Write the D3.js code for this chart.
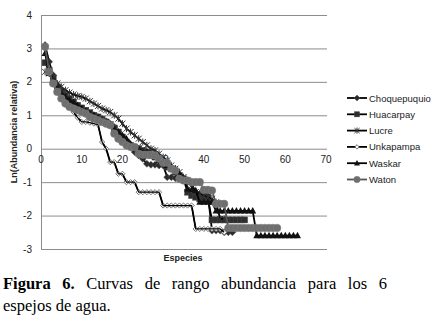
<!DOCTYPE html>
<html><head><meta charset="utf-8">
<script src="https://cdn.jsdelivr.net/npm/d3@7"></script>
<style>body{margin:0;background:#fff}svg{display:block}</style>
</head><body>
<svg id="c" width="437" height="323"></svg>
<script>
const seriesNames = ["Choquepuquio","Huacarpay","Lucre","Unkapampa","Waskar","Waton"];
const choquepuquio = [3.1,2.6,2.2,1.9,1.7,1.55,1.45,1.35,1.28,1.2,1.12,1.05,1.0,0.95,0.9,0.82,0.75,0.65,0.5,0.35,0.2,0.05,-0.1,-0.2,-0.3,-0.45,-0.48,-0.48,-0.5,-0.5,-0.85,-0.85,-0.88,-0.9,-0.9,-1.0,-1.05,-1.3,-1.35,-1.35,-1.4,-2.45,-2.45,-2.45,-2.5,-2.5,-2.5];
const huacarpay = [2.57,2.35,2.1,1.85,1.7,1.6,1.5,1.4,1.3,1.22,1.15,1.08,1.0,0.95,0.88,0.8,0.72,0.62,0.5,0.35,0.2,0.1,0.05,0.0,-0.05,-0.1,-0.2,-0.25,-0.3,-0.4,-0.55,-0.6,-0.7,-0.8,-0.9,-1.3,-1.4,-1.45,-1.5,-1.5,-1.5,-2.13,-2.13,-2.13,-2.13,-2.13,-2.13,-2.13,-2.13,-2.13];
const lucre = [2.3,2.25,2.1,1.95,1.85,1.75,1.68,1.62,1.58,1.55,1.5,1.42,1.35,1.28,1.2,1.15,1.1,1.0,0.9,0.75,0.6,0.5,0.4,0.3,0.2,0.1,0.0,-0.05,-0.15,-0.25,-0.35,-0.5,-0.6,-0.7,-0.85,-0.95,-1.1,-1.3,-1.35,-1.4,-1.45,-1.5,-1.6,-2.1,-2.1];
const unkapampa = [3.0,2.3,2.0,1.75,1.55,1.4,1.25,1.1,0.93,0.8,0.8,0.78,0.75,0.72,0.2,0.0,-0.4,-0.4,-0.75,-0.75,-1.0,-1.0,-1.0,-1.3,-1.3,-1.3,-1.3,-1.3,-1.3,-1.7,-1.7,-1.7,-1.7,-1.7,-1.7,-1.7,-1.7,-2.4,-2.4,-2.4,-2.4,-2.4,-2.4,-2.4,-2.5];
const waskar = [2.85,2.25,2.0,1.8,1.65,1.55,1.45,1.38,1.3,1.2,1.12,1.05,1.0,0.92,0.85,0.78,0.7,0.58,0.5,0.4,0.3,0.15,0.05,0.0,-0.1,-0.1,-0.12,-0.15,-0.35,-0.45,-0.5,-0.55,-0.6,-0.75,-0.9,-1.2,-1.23,-1.25,-1.6,-1.6,-1.6,-1.6,-1.86,-1.86,-1.86,-1.86,-1.86,-1.86,-1.86,-1.86,-1.86,-1.86,-2.6,-2.6,-2.6,-2.6,-2.6,-2.6,-2.6,-2.6,-2.6,-2.6,-2.6];
const waton = [3.05,2.3,1.95,1.7,1.5,1.35,1.25,1.2,1.15,1.1,1.05,0.95,0.9,0.85,0.8,0.75,0.7,0.45,0.3,0.2,0.1,0.05,0.05,-0.15,-0.18,-0.18,-0.18,-0.2,-0.3,-0.42,-0.42,-0.6,-0.65,-0.9,-0.95,-0.95,-1.0,-1.0,-1.0,-1.23,-1.23,-1.25,-1.65,-1.65,-1.65,-2.37,-2.37,-2.37,-2.37,-2.37,-2.37,-2.37,-2.37,-2.37,-2.37,-2.37,-2.37,-2.37];
const xTicks = [0,10,20,30,40,50,60,70];
const yTicks = [-3,-2,-1,0,1,2,3,4];
const xTitle = "Especies";
const yTitle = "Ln(Abundancia relativa)";
const captionBold = "Figura 6.";
const captionLine1 = "Curvas de rango abundancia para los 6";
const captionLine2 = "espejos de agua.";

const allSeries = [choquepuquio,huacarpay,lucre,unkapampa,waskar,waton];
const svg = d3.select("#c");
const x = d3.scaleLinear().domain([0,70]).range([41,326]);
const y = d3.scaleLinear().domain([-3,4]).range([249,15]);

// grid
svg.append("g").selectAll("line").data(yTicks).join("line")
  .attr("x1",41).attr("x2",327).attr("y1",d=>y(d)+0.5).attr("y2",d=>y(d)+0.5)
  .attr("stroke","#8c8c8c").attr("stroke-width",1);
svg.append("line").attr("x1",41.5).attr("x2",41.5).attr("y1",y(4)).attr("y2",y(-3)+1)
  .attr("stroke","#8c8c8c");

// tick labels
svg.append("g").selectAll("text").data(yTicks).join("text")
  .attr("x",32).attr("y",d=>y(d)+3.5).attr("text-anchor","end")
  .attr("font-family","Liberation Sans, Arial, sans-serif").attr("font-size",10).attr("fill","#222")
  .text(d=>d);
svg.append("g").selectAll("text").data(xTicks).join("text")
  .attr("x",d=>x(d)).attr("y",y(0)+14).attr("text-anchor","middle")
  .attr("font-family","Liberation Sans, Arial, sans-serif").attr("font-size",10).attr("fill","#222")
  .text(d=>d);

// axis titles
svg.append("text").attr("transform",`translate(17,${(y(4)+y(-3))/2}) rotate(-90)`)
  .attr("text-anchor","middle").attr("font-family","Liberation Sans, Arial, sans-serif")
  .attr("font-size",9).attr("font-weight","bold").attr("fill","#222").text(yTitle);
svg.append("text").attr("x",183).attr("y",261).attr("text-anchor","middle")
  .attr("font-family","Liberation Sans, Arial, sans-serif")
  .attr("font-size",9).attr("font-weight","bold").attr("fill","#222").text(xTitle);

// markers
function drawMarker(g, i, cx, cy, s){
  const k = s||1;
  if(i===0){ // filled diamond
    g.append("path").attr("d",`M${cx},${cy-3.5*k}L${cx+3.5*k},${cy}L${cx},${cy+3.5*k}L${cx-3.5*k},${cy}Z`)
      .attr("fill","#2a2a2a").attr("stroke","#555").attr("stroke-width",0.5);
  } else if(i===1){ // square
    g.append("rect").attr("x",cx-3*k).attr("y",cy-3*k).attr("width",6*k).attr("height",6*k)
      .attr("fill","#2e2e2e").attr("stroke","#444").attr("stroke-width",0.5);
  } else if(i===2){ // star
    const r=3*k;
    g.append("path").attr("d",`M${cx-r},${cy-r}L${cx+r},${cy+r}M${cx-r},${cy+r}L${cx+r},${cy-r}M${cx},${cy-r-0.5}L${cx},${cy+r+0.5}`)
      .attr("stroke","#333").attr("stroke-width",1).attr("fill","none");
  } else if(i===3){ // open diamond
    g.append("path").attr("d",`M${cx},${cy-2.6*k}L${cx+2.6*k},${cy}L${cx},${cy+2.6*k}L${cx-2.6*k},${cy}Z`)
      .attr("fill","#fff").attr("stroke","#666").attr("stroke-width",0.9);
  } else if(i===4){ // triangle
    g.append("path").attr("d",`M${cx},${cy-3.8*k}L${cx+3.5*k},${cy+2.6*k}L${cx-3.5*k},${cy+2.6*k}Z`)
      .attr("fill","#111");
  } else { // circle
    g.append("circle").attr("cx",cx).attr("cy",cy).attr("r",3.8*k)
      .attr("fill","#6e6e6e").attr("stroke","#808080").attr("stroke-width",0.5);
  }
}

const line = d3.line().x((d,i)=>x(i+1)).y(d=>y(d));
allSeries.forEach((vals,si)=>{
  const g = svg.append("g");
  g.append("path").datum(vals).attr("d",line).attr("fill","none")
    .attr("stroke", si===5?"#555":"#000").attr("stroke-width",1.8);
  vals.forEach((v,i)=>drawMarker(g, si, x(i+1), y(v)));
  if(si===3){
    g.append("path").datum(vals).attr("d",line).attr("fill","none")
      .attr("stroke","#000").attr("stroke-width",1.2);
  }
});

// legend
const lg = svg.append("g");
seriesNames.forEach((n,i)=>{
  const ly = 98 + i*16.3;
  lg.append("line").attr("x1",347).attr("x2",367).attr("y1",ly).attr("y2",ly)
    .attr("stroke",i===5?"#555":"#000").attr("stroke-width",1.8);
  drawMarker(lg, i, 357, ly, 0.85);
  lg.append("text").attr("x",369).attr("y",ly+3.5)
    .attr("font-family","Liberation Sans, Arial, sans-serif").attr("font-size",9.5).attr("fill","#222").text(n);
});

// caption
const cf = "Liberation Serif, Times New Roman, serif";
const cap = svg.append("g").attr("font-family",cf).attr("font-size",16.5).attr("fill","#000");
const words1 = [{t:captionBold.split(" ")[0],b:true},{t:captionBold.split(" ")[1],b:true}]
  .concat(captionLine1.split(" ").map(t=>({t,b:false})));
const left = 3, right = 387, base1 = 289;
const nodes = words1.map(w=>cap.append("text").attr("y",base1).attr("font-weight",w.b?"bold":"normal").text(w.t));
const widths = nodes.map(n=>n.node().getComputedTextLength());
const gap = (right-left-d3.sum(widths))/(nodes.length-1);
let cx = left;
nodes.forEach((n,i)=>{ n.attr("x",cx); cx += widths[i]+gap; });
cap.append("text").attr("x",left).attr("y",base1+22).text(captionLine2);
</script>
</body></html>
